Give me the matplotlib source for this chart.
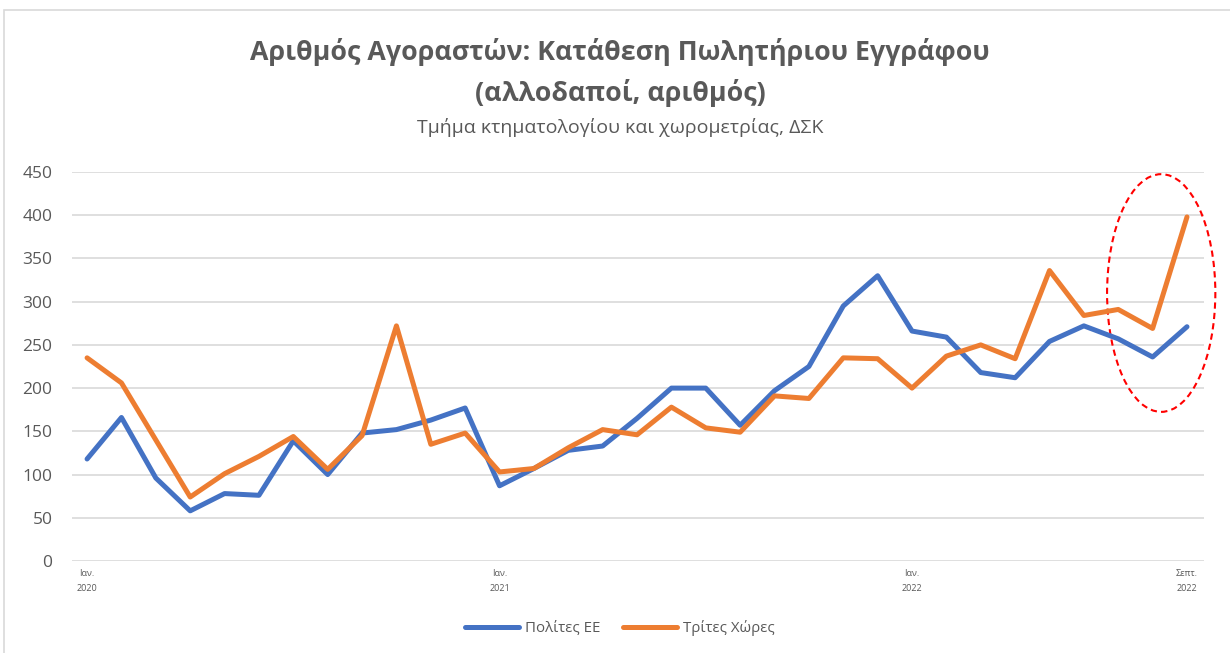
import matplotlib.pyplot as plt
from matplotlib.patches import Ellipse, Rectangle

plt.rcParams['font.family'] = ['Open Sans', 'DejaVu Sans']

# monthly values, Jan 2020 - Sep 2022
months = list(range(33))
eu_citizens = [118, 166, 96, 58, 78, 76, 139, 100, 148, 152, 163, 177,
               87, 107, 128, 133, 165, 200, 200, 157, 197, 225,
               295, 330, 266, 259, 218, 212, 254, 272, 257, 236, 271]
third_countries = [235, 206, 140, 74, 101, 121, 144, 106, 145, 272, 135, 148,
                   103, 107, 131, 152, 146, 178, 154, 149, 191, 188,
                   235, 234, 200, 237, 250, 234, 336, 284, 291, 269, 398]
tick_pos = [0, 12, 24, 32]
tick_labels = ["Ιαν.\n2020", "Ιαν.\n2021", "Ιαν.\n2022", "Σεπτ.\n2022"]

grey = "#595959"

fig = plt.figure(figsize=(12.3, 6.53), dpi=100)
fig.patches.append(Rectangle((0.003, -0.01), 1.0, 0.995, transform=fig.transFigure,
                             fill=False, edgecolor="#D9D9D9", linewidth=1.2))
ax = fig.add_axes([0.0585, 0.1409, 0.9205, 0.5957])

ax.plot(months, eu_citizens, color="#4472C4", linewidth=3.6, label="Πολίτες ΕΕ",
        solid_joinstyle="round", solid_capstyle="round")
ax.plot(months, third_countries, color="#ED7D31", linewidth=3.6, label="Τρίτες Χώρες",
        solid_joinstyle="round", solid_capstyle="round")

# red dashed highlight around the last months
ax.add_patch(Ellipse((31.25, 310), 3.15, 275, fill=False, edgecolor="#FF0000",
                     linestyle=(0, (3, 2)), linewidth=1.5, clip_on=False))

ax.set_xlim(-0.44, 32.5)
ax.set_ylim(0, 450)
ax.set_yticks(range(0, 451, 50))
ax.set_xticks(tick_pos)
ax.set_xticklabels(tick_labels, fontsize=6.5, color=grey, linespacing=1.8)
ax.tick_params(axis="y", labelsize=12.5, colors=grey, length=0, pad=14)
ax.tick_params(axis="x", length=0, pad=6)
ax.grid(axis="y", color="#D9D9D9", linewidth=1.2)
ax.set_axisbelow(True)
for s in ax.spines.values():
    s.set_visible(False)

fig.text(0.504, 0.92, "Αριθμός Αγοραστών: Κατάθεση Πωλητήριου Εγγράφου",
         ha="center", va="center", fontsize=19.3, fontweight="bold", color=grey)
fig.text(0.504, 0.858, "(αλλοδαποί, αριθμός)",
         ha="center", va="center", fontsize=19.3, fontweight="bold", color=grey)
fig.text(0.504, 0.805, "Τμήμα κτηματολογίου και χωρομετρίας, ΔΣΚ",
         ha="center", va="center", fontsize=14, color=grey)

fig.legend(loc="center", bbox_to_anchor=(0.504, 0.038), ncol=2, frameon=False,
           fontsize=10.8, labelcolor=grey, handlelength=3.6, handletextpad=0.4,
           columnspacing=1.5)

fig.savefig("out.png", dpi=100)
